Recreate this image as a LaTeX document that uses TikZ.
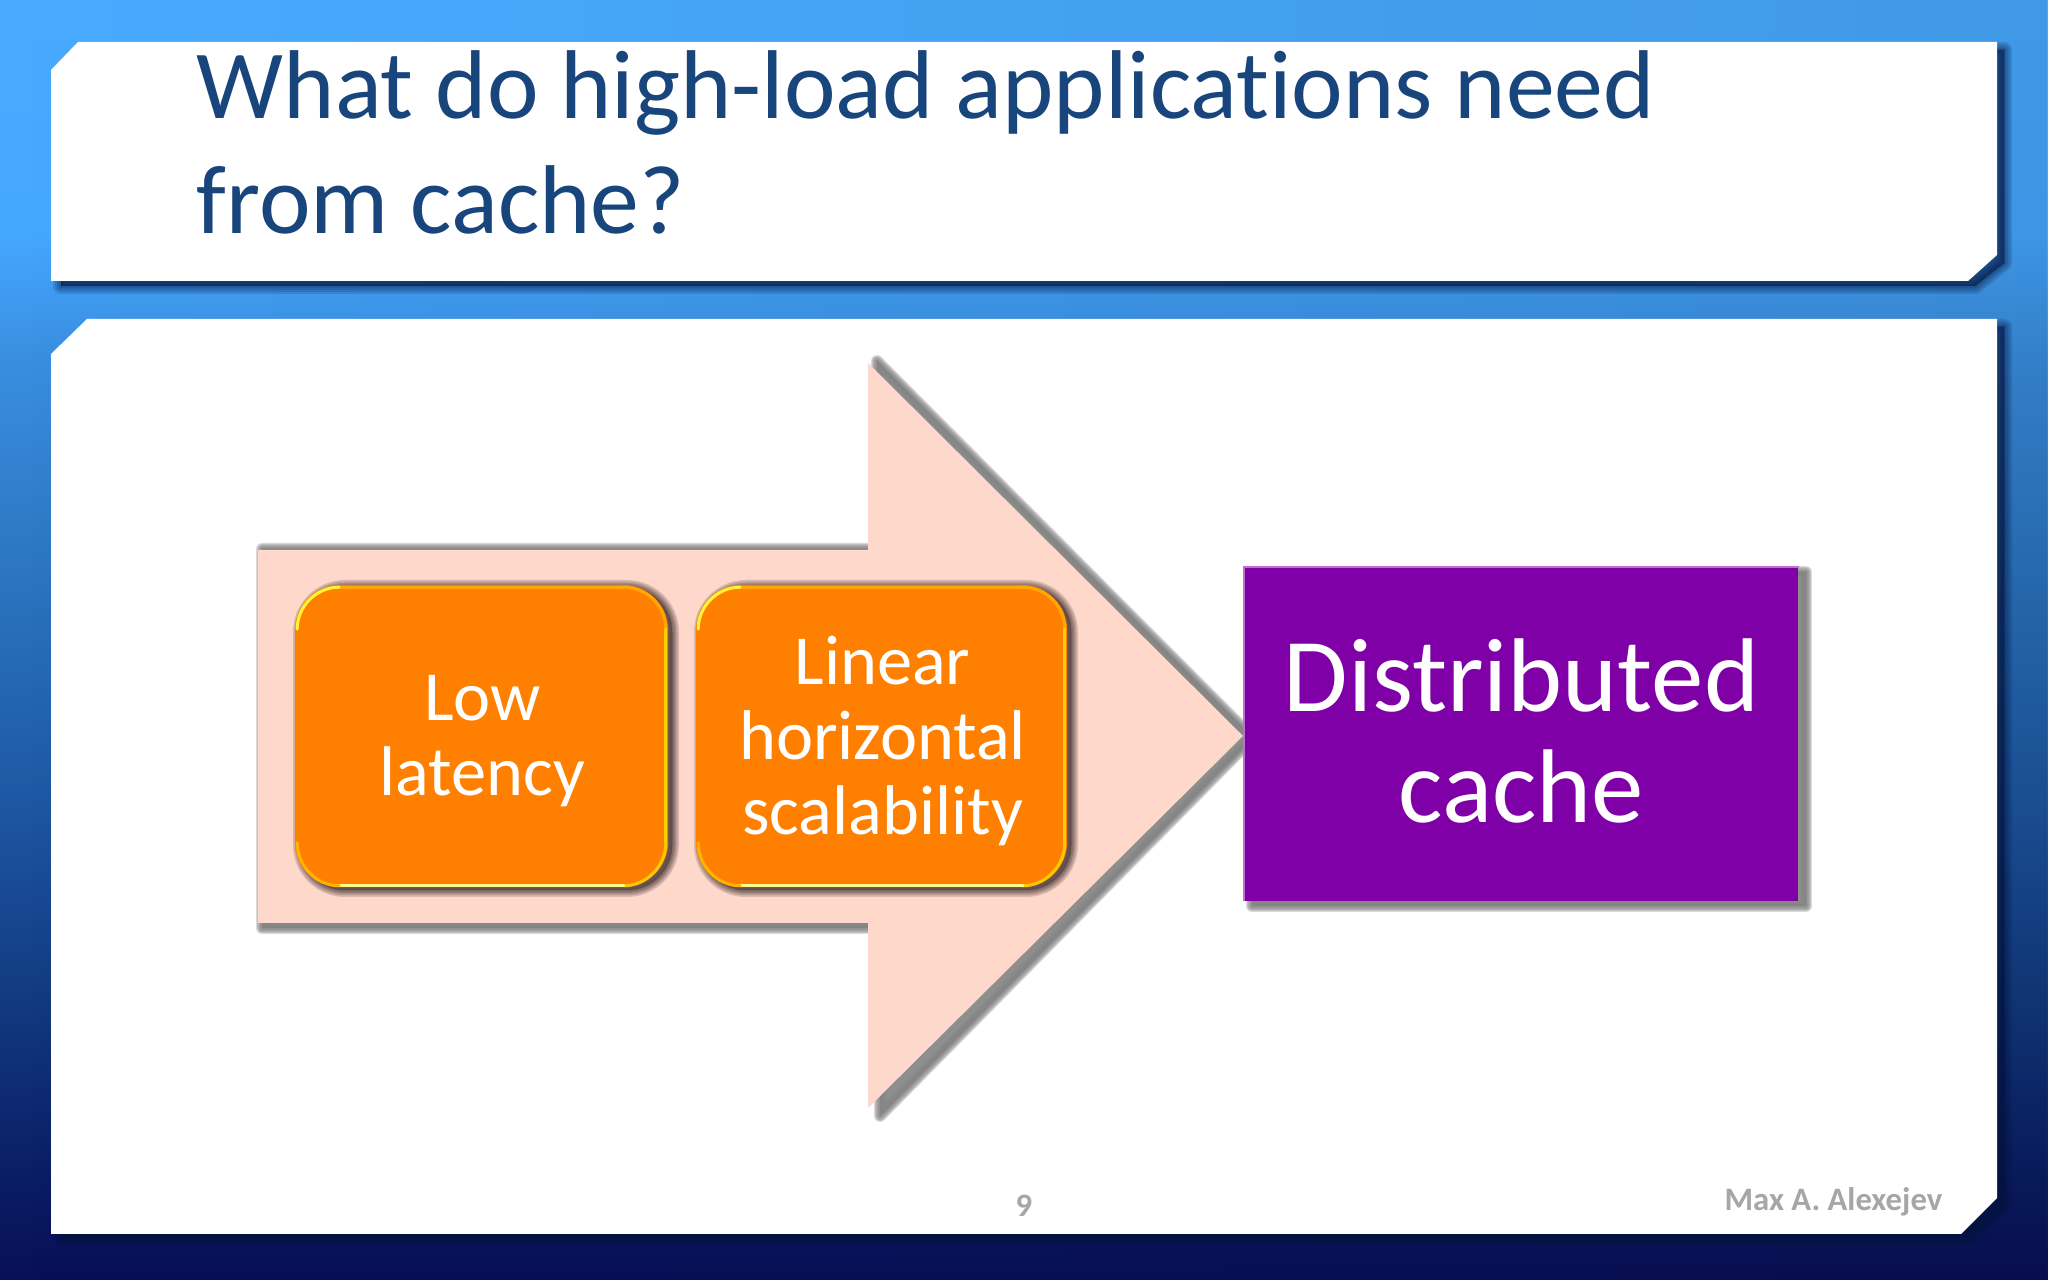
\documentclass[tikz,border=0pt]{standalone}
\usepackage{fontspec}
\setmainfont[Ligatures=NoCommon]{Carlito}
\usetikzlibrary{calc}
\usetikzlibrary{fadings}

\definecolor{titleblue}{HTML}{17457C}
\definecolor{panelshadow}{HTML}{04123C}
\definecolor{arrowpink}{HTML}{FDD8CB}
\definecolor{softgray}{HTML}{858585}
\definecolor{boxshadow}{HTML}{5E4A48}
\definecolor{boxorange}{HTML}{FF8000}
\definecolor{boxpurple}{HTML}{7F00A6}
\definecolor{footgray}{HTML}{A6A6A6}
\definecolor{bgA}{HTML}{48ABFF}
\definecolor{bgB}{HTML}{45A8FF}
\definecolor{bgC}{HTML}{3A8EE0}
\definecolor{bgD}{HTML}{2A73BE}
\definecolor{bgE}{HTML}{1E58A4}
\definecolor{bgF}{HTML}{123A80}
\definecolor{bgG}{HTML}{0A1D64}
\definecolor{bgH}{HTML}{080F58}

\pgfdeclareverticalshading{slidebg}{100bp}{
  color(0bp)=(bgH);
  color(25bp)=(bgH);
  color(29bp)=(bgG);
  color(36bp)=(bgF);
  color(44bp)=(bgE);
  color(52bp)=(bgD);
  color(61bp)=(bgC);
  color(66bp)=(bgB);
  color(75bp)=(bgA);
  color(100bp)=(bgA)}

\tikzset{
  slidetext/.style={inner sep=0pt,align=center,text=white},
  bevelbox/.style={fill=boxorange,rounded corners=0.45cm,inner sep=0pt,
    minimum height=3.02cm},
  bevel/.style={line cap=round,line width=0.03cm},
}

% blurred shadow: colour, opacity, widths, path
\newcommand{\softshadow}[4]{
  \foreach \w in {#3}
    \path[fill=#1,draw=#1,opacity=#2,line join=round,line width=\w*0.01cm] #4;
}

\begin{document}
\begin{tikzpicture}[x=0.01cm,y=-0.01cm]
            \useasboundingbox (0,0) rectangle (2048,1280);

            % Draw the slide background
            \shade[shading=slidebg] (0,0) rectangle (2048,1280);
            \fill[black,path fading=west,opacity=.1] (0,0) rectangle (2048,1280);

            % Draw the two panels
            \softshadow{panelshadow}{.14}{16,12,8,4,0}{(61,78) -- (88,50) -- (2004,50) -- (2004,263) -- (1975,286) -- (61,286) -- cycle}
            \softshadow{panelshadow}{.14}{16,12,8,4,0}{(61,362) -- (97,327) -- (2004,327) -- (2004,1206) -- (1968,1239) -- (61,1239) -- cycle}
            \fill[white] (51,70) -- (78,42) -- (1997,42) -- (1997,255) -- (1968,281) -- (51,281) -- cycle;
            \fill[white] (51,354) -- (87,319) -- (1997,319) -- (1997,1198) -- (1961,1234) -- (51,1234) -- cycle;

            % Draw the big arrow
            \softshadow{softgray}{.3}{12,10,8,6,4,2,0}{(262,549) -- (877,549) -- (877,361) -- (1253,738) -- (880,1116) -- (880,928) -- (262,928) -- cycle}
            \fill[arrowpink] (258,550) -- (868,550) -- (868,363) -- (1243,736) -- (868,1108) -- (868,923) -- (258,923) -- cycle;

            % Draw the rounded boxes
            \foreach \xl/\xr in {300/672,701/1071}
              \softshadow{boxshadow}{.22}{14,11,8,6,4,2,0}{[rounded corners=0.45cm] (\xl,587) rectangle (\xr,890)};
            \node[bevelbox,minimum width=3.73cm] (lowbox) at (481.5,736) {};
            \node[bevelbox,minimum width=3.71cm] (linearbox) at (881.5,736) {};
            \foreach \nm in {lowbox,linearbox} {
              \draw[bevel,color=orange!70!yellow] ($(\nm.north west)+(45,3)$) -- ($(\nm.north east)+(-45,3)$);
              \draw[bevel,color=yellow!80!white] ($(\nm.north west)+(3,45)$) .. controls ($(\nm.north west)+(3,22)$) and ($(\nm.north west)+(22,3)$) .. ($(\nm.north west)+(45,3)$);
              \draw[bevel,color=orange!70!yellow] ($(\nm.north east)+(-45,3)$) .. controls ($(\nm.north east)+(-22,3)$) and ($(\nm.north east)+(-3,22)$) .. ($(\nm.north east)+(-3,45)$);
              \draw[bevel,color=yellow!70!orange] ($(\nm.north east)+(-3,45)$) -- ($(\nm.south east)+(-3,-45)$);
              \draw[bevel,color=yellow!60!orange] ($(\nm.south east)+(-3,-45)$) .. controls ($(\nm.south east)+(-3,-22)$) and ($(\nm.south east)+(-22,-2)$) .. ($(\nm.south east)+(-45,-2)$);
              \draw[bevel,color=yellow!45!white] ($(\nm.south east)+(-45,-2)$) -- ($(\nm.south west)+(45,-2)$);
              \draw[bevel,color=orange!60!yellow] ($(\nm.south west)+(45,-2)$) .. controls ($(\nm.south west)+(22,-2)$) and ($(\nm.south west)+(3,-22)$) .. ($(\nm.south west)+(3,-45)$);
            }

            % Draw the purple box
            \softshadow{softgray}{.3}{12,10,8,6,4,2,0}{(1252,572) rectangle (1806,906)}
            \node[fill=boxpurple,inner sep=0pt,minimum width=5.53cm,minimum height=3.33cm] (cachebox) at (1521.5,734) {};
            \draw[boxpurple!55!white,line width=0.02cm] (cachebox.south west) -- (cachebox.north west) -- (cachebox.north east);

            % Draw the texts
            \node[anchor=north west,inner sep=0pt,align=left,text=titleblue,font=\fontsize{27.8}{32.72}\selectfont] (title) at (196,50) {What do high-load applications need\\from cache?};
            \node[slidetext,font=\fontsize{20}{21.4}\selectfont] (lowtext) at ($(lowbox.center)+(1,5)$) {Low\\latency};
            \node[slidetext,font=\fontsize{20}{21.4}\selectfont] (lineartext) at ($(linearbox.center)+(1,5)$) {Linear\\horizontal\\scalability};
            \node[slidetext,font=\fontsize{29.8}{31.6}\selectfont] (cachetext) at ($(cachebox.center)+(0,-3)$) {Distributed\\cache};
            \node[anchor=base,inner sep=0pt,text=footgray,font=\fontsize{9.3}{11}\selectfont\bfseries] (pagenum) at (1024,1217) {9};
            \node[anchor=base east,inner sep=0pt,text=footgray,font=\fontsize{9.3}{11}\selectfont\bfseries] (author) at (1943,1211) {Max A. Alexejev};
\end{tikzpicture}
\end{document}
